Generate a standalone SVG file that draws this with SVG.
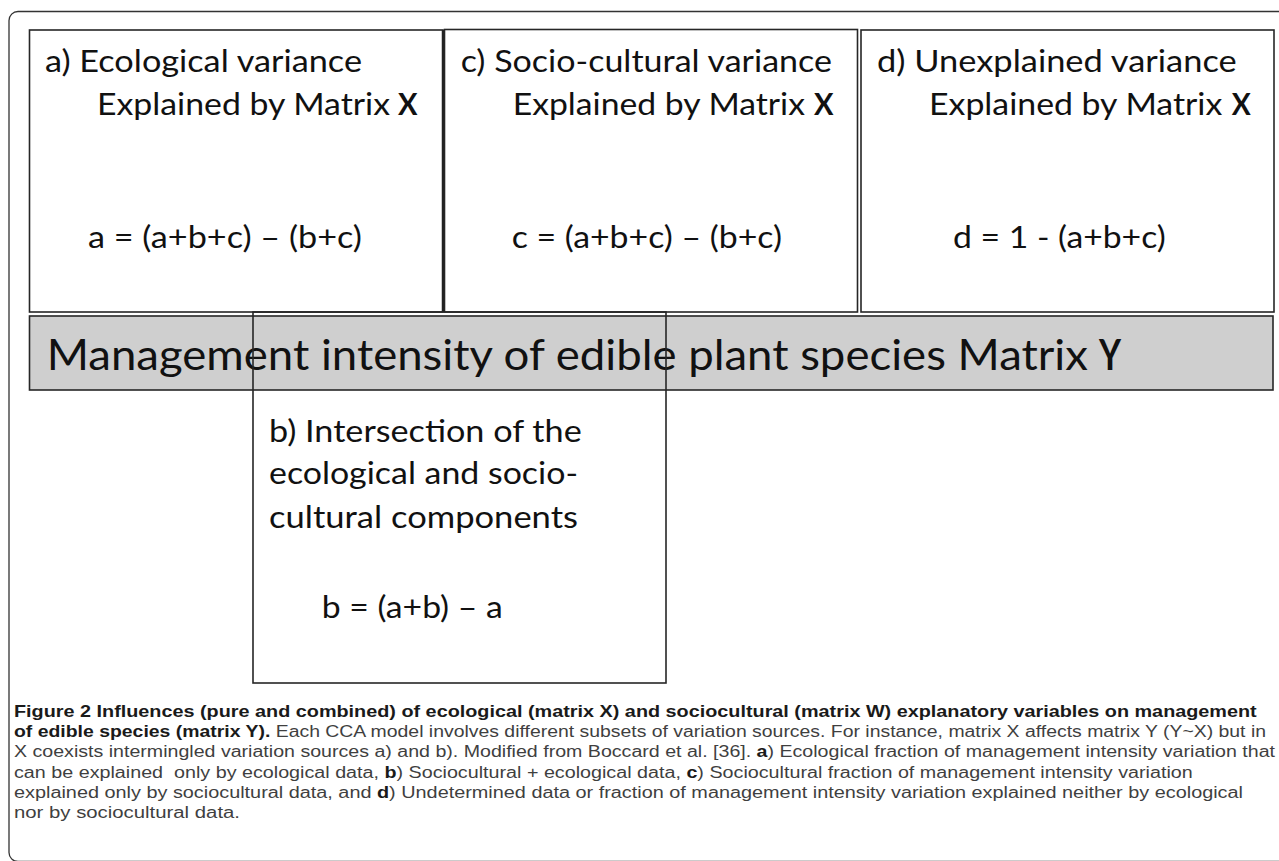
<svg xmlns="http://www.w3.org/2000/svg" width="1279" height="861" viewBox="0 0 1279 861">
<style>
.box{fill:#fff;stroke:#262626;stroke-width:1.6}
.bt{font-family:Lato,"Open Sans","Liberation Sans",sans-serif;font-size:30px;fill:#111}
.bb{font-weight:bold}
.band{fill:#cfcfcf;stroke:#262626;stroke-width:1.6}
.cap{font-family:"Liberation Sans",Arial,sans-serif;font-size:17.3px;fill:#3f3f3f}
.capb{font-weight:bold;fill:#1a1a1a}
</style>
<rect x="9" y="11.5" width="1300" height="850" rx="9" fill="none" stroke="#333" stroke-width="1.3"/>
<g id="node-a">
<rect class="box" x="29.5" y="30" width="413.5" height="282"/>
<line x1="443" y1="30" x2="443" y2="312" stroke="#222" stroke-width="2.5"/>
<text class="bt" x="45" y="71.7" textLength="317" lengthAdjust="spacingAndGlyphs">a) Ecological variance</text>
<text class="bt" x="97" y="115" textLength="293" lengthAdjust="spacingAndGlyphs">Explained by Matrix</text>
<text class="bt bb" x="398" y="115" textLength="19.5" lengthAdjust="spacingAndGlyphs">X</text>
<text class="bt" x="88" y="248.3" textLength="274" lengthAdjust="spacingAndGlyphs">a = (a+b+c) – (b+c)</text>
</g>
<g id="node-c">
<rect class="box" x="444.5" y="29.5" width="413" height="282.5"/>
<text class="bt" x="460.7" y="71.7" textLength="371.3" lengthAdjust="spacingAndGlyphs">c) Socio-cultural variance</text>
<text class="bt" x="512.7" y="115" textLength="292.3" lengthAdjust="spacingAndGlyphs">Explained by Matrix</text>
<text class="bt bb" x="814" y="115" textLength="19.5" lengthAdjust="spacingAndGlyphs">X</text>
<text class="bt" x="511.7" y="248.3" textLength="270.3" lengthAdjust="spacingAndGlyphs">c = (a+b+c) – (b+c)</text>
</g>
<g id="node-d">
<rect class="box" x="861" y="30" width="413" height="282"/>
<text class="bt" x="877" y="71.7" textLength="359.7" lengthAdjust="spacingAndGlyphs">d) Unexplained variance</text>
<text class="bt" x="929" y="115" textLength="293.3" lengthAdjust="spacingAndGlyphs">Explained by Matrix</text>
<text class="bt bb" x="1231.7" y="115" textLength="19" lengthAdjust="spacingAndGlyphs">X</text>
<text class="bt" x="953" y="248.3" textLength="212.7" lengthAdjust="spacingAndGlyphs">d = 1 - (a+b+c)</text>
</g>
<g id="node-y">
<rect class="band" x="29.5" y="316" width="1243.5" height="74"/>
<text class="bt" style="font-size:42px" x="46.7" y="370" textLength="1041.3" lengthAdjust="spacingAndGlyphs">Management intensity of edible plant species Matrix</text>
<text class="bt bb" style="font-size:42px" x="1099" y="370" textLength="22" lengthAdjust="spacingAndGlyphs">Y</text>
</g>
<g id="node-b">
<rect x="253" y="312" width="413" height="371" fill="none" stroke="#262626" stroke-width="1.6"/>
<text class="bt" x="269" y="441.7" textLength="312.7" lengthAdjust="spacingAndGlyphs">b) Intersection of the</text>
<text class="bt" x="269" y="484" textLength="309" lengthAdjust="spacingAndGlyphs">ecological and socio-</text>
<text class="bt" x="269" y="528" textLength="309" lengthAdjust="spacingAndGlyphs">cultural components</text>
<text class="bt" x="321.7" y="618" textLength="181" lengthAdjust="spacingAndGlyphs">b = (a+b) – a</text>
</g>
<g id="connectors"></g>
<g id="caption">
<text class="cap capb" x="14" y="716.7" textLength="1242.7" lengthAdjust="spacingAndGlyphs">Figure 2 Influences (pure and combined) of ecological (matrix X) and sociocultural (matrix W) explanatory variables on management</text>
<text class="cap" x="14" y="737.3" textLength="1252" lengthAdjust="spacingAndGlyphs"><tspan class="capb">of edible species (matrix Y).</tspan> Each CCA model involves different subsets of variation sources. For instance, matrix X affects matrix Y (Y~X) but in</text>
<text class="cap" x="14" y="757.3" textLength="1261" lengthAdjust="spacingAndGlyphs">X coexists intermingled variation sources a) and b). Modified from Boccard et al. [36]. <tspan class="capb">a</tspan>) Ecological fraction of management intensity variation that</text>
<text class="cap" x="14" y="777.7" textLength="1178.7" lengthAdjust="spacingAndGlyphs" xml:space="preserve">can be explained  only by ecological data, <tspan class="capb">b</tspan>) Sociocultural + ecological data, <tspan class="capb">c</tspan>) Sociocultural fraction of management intensity variation</text>
<text class="cap" x="14" y="798.3" textLength="1229" lengthAdjust="spacingAndGlyphs">explained only by sociocultural data, and <tspan class="capb">d</tspan>) Undetermined data or fraction of management intensity variation explained neither by ecological</text>
<text class="cap" x="14" y="818.3" textLength="226" lengthAdjust="spacingAndGlyphs">nor by sociocultural data.</text>
</g>
</svg>
